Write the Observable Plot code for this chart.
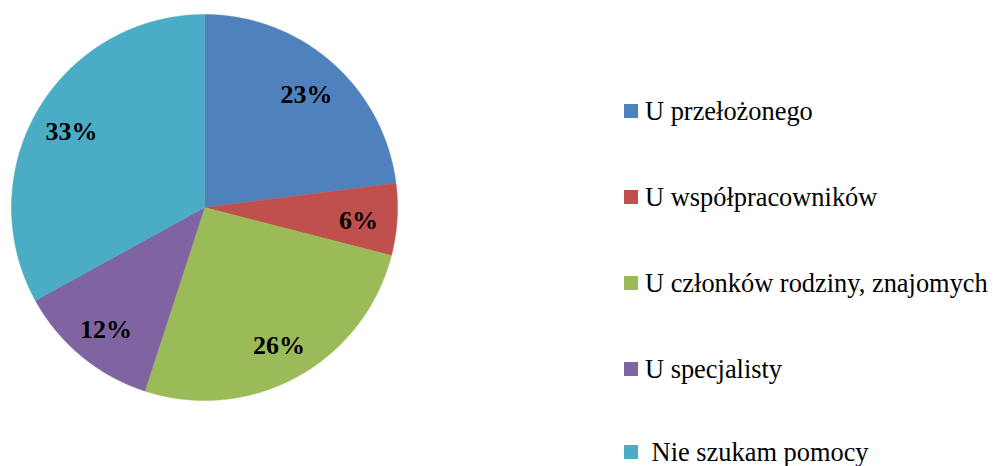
<!DOCTYPE html>
<html><head><meta charset="utf-8">
<script src="https://cdn.jsdelivr.net/npm/d3@7"></script>
<script src="https://cdn.jsdelivr.net/npm/@observablehq/plot@0.6"></script>
<style>
body{margin:0;background:#fff;}
#wrap{position:relative;width:994px;height:466px;overflow:hidden;}
.legend{position:absolute;left:624px;top:0;font-family:'Liberation Serif',serif;font-size:26.4px;color:#000;}
.item{position:absolute;left:0;height:30px;display:flex;align-items:center;white-space:pre;}
.sw{width:14px;height:14px;margin-right:7px;flex:none;}
</style></head>
<body><div id="wrap"></div>
<script>
const categories = ["U przełożonego", "U współpracowników", "U członków rodziny, znajomych", "U specjalisty", " Nie szukam pomocy"];
const values = [23, 6, 26, 12, 33];
const labels = ["23%", "6%", "26%", "12%", "33%"];
const colors = ["#4F81BD", "#C0504D", "#9BBB59", "#8064A2", "#4BACC6"];

const total = d3.sum(values);
const slices = [];
const labelPts = [];
let cum = 0;
values.forEach((v, i) => {
  const a0 = cum / total * 2 * Math.PI;
  const a1 = (cum + v) / total * 2 * Math.PI;
  cum += v;
  slices.push({name: categories[i], x: 0, y: 0});
  const n = Math.max(2, Math.ceil((a1 - a0) / 0.005));
  for (let k = 0; k <= n; k++) {
    const a = a0 + (a1 - a0) * k / n;
    slices.push({name: categories[i], x: Math.sin(a), y: Math.cos(a)});
  }
  slices.push({name: categories[i], x: 0, y: 0});
  const am = (a0 + a1) / 2;
  labelPts.push({label: labels[i], x: 0.8 * Math.sin(am), y: 0.8 * Math.cos(am)});
});

const chart = Plot.plot({
  width: 994,
  height: 466,
  margin: 0,
  x: {domain: [-1, 1], range: [11, 397], axis: null},
  y: {domain: [-1, 1], range: [400, 14], axis: null},
  color: {domain: categories, range: colors},
  marks: [
    Plot.line(slices, {x: "x", y: "y", z: "name", fill: "name", stroke: "name", strokeWidth: 0.5, curve: "linear-closed"}),
    Plot.text(labelPts, {x: "x", y: "y", text: "label", dy: 3, fontSize: 26, fontWeight: "bold", fontFamily: "Liberation Serif, serif", fill: "#000"})
  ]
});
const wrap = document.getElementById("wrap");
wrap.appendChild(chart);

const legend = document.createElement("div");
legend.className = "legend";
const rowCenters = [111, 197, 283, 369, 452];
categories.forEach((c, i) => {
  const it = document.createElement("div");
  it.className = "item";
  it.style.top = (rowCenters[i] - 15) + "px";
  const sw = document.createElement("div");
  sw.className = "sw";
  sw.style.background = colors[i];
  const t = document.createElement("span");
  t.textContent = c;
  it.appendChild(sw);
  it.appendChild(t);
  legend.appendChild(it);
});
wrap.appendChild(legend);
</script>
</body></html>
